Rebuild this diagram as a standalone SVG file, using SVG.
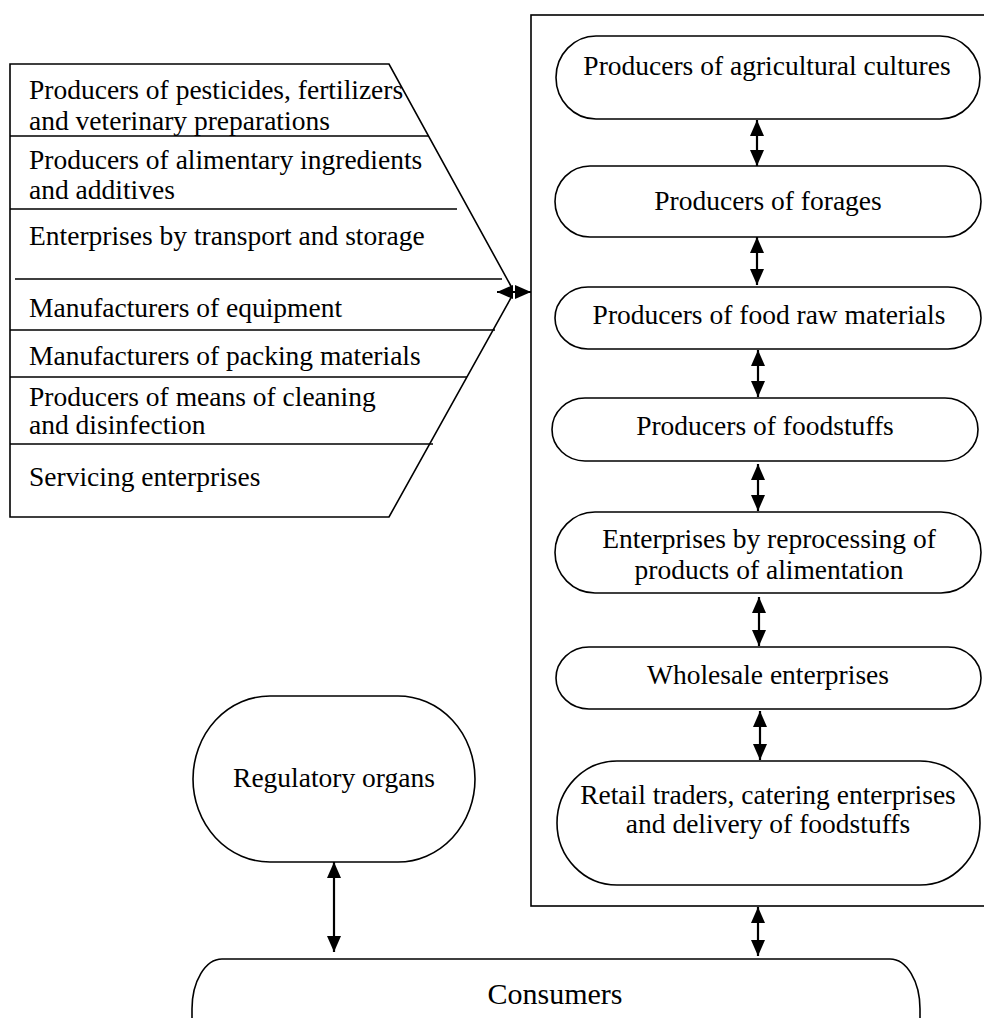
<svg xmlns="http://www.w3.org/2000/svg" width="984" height="1018" viewBox="0 0 984 1018">
<style>
.o{fill:#fff;stroke:#000;stroke-width:1.6}
.ln{fill:none;stroke:#000;stroke-width:1.6}
.c{fill:none;stroke:#000;stroke-width:2.2}
</style>
<defs>
<marker id="ah" viewBox="0 0 16 14" refX="16" refY="7" markerWidth="16" markerHeight="14" markerUnits="userSpaceOnUse" orient="auto-start-reverse">
<path d="M0,0 L16,7 L0,14 z" fill="#000"/>
</marker>
</defs>
<rect id="background" x="0" y="0" width="984" height="1018" fill="#fff"/>

<g font-family="'Liberation Serif', 'Times New Roman', serif" font-size="27.5" fill="#000">
<g id="suppliers">
<path class="ln" d="M512,296 L389,517 H10 V64 H389 L512,288"/>
<path class="ln" d="M10,136 H429 M10,209 H457 M15,279 H502 M10,330 H495 M10,377 H467 M10,444 H433"/>
<text x="29" y="99">Producers of pesticides, fertilizers</text>
<text x="29" y="130">and veterinary preparations</text>
<text x="29" y="169">Producers of alimentary ingredients</text>
<text x="29" y="199">and additives</text>
<text x="29" y="245">Enterprises by transport and storage</text>
<text x="29" y="317">Manufacturers of equipment</text>
<text x="29" y="365">Manufacturers of packing materials</text>
<text x="29" y="406">Producers of means of cleaning</text>
<text x="29" y="434">and disinfection</text>
<text x="29" y="486">Servicing enterprises</text>
</g>

<g id="chain-box">
<rect class="o" x="531" y="15" width="470" height="891"/>
</g>

<g text-anchor="middle">
<g id="n1">
<rect class="o" x="556" y="36" width="424" height="83" rx="40" ry="41.5"/>
<text x="767" y="75">Producers of agricultural cultures</text>
</g>
<g id="n2">
<rect class="o" x="555" y="166" width="426" height="71" rx="35" ry="35.5"/>
<text x="768" y="210">Producers of forages</text>
</g>
<g id="n3">
<rect class="o" x="555" y="287" width="426" height="62" rx="33" ry="31"/>
<text x="769" y="324">Producers of food raw materials</text>
</g>
<g id="n4">
<rect class="o" x="552" y="398" width="426" height="63" rx="33" ry="31.5"/>
<text x="765" y="435">Producers of foodstuffs</text>
</g>
<g id="n5">
<rect class="o" x="555" y="512" width="426" height="81" rx="40" ry="40.5"/>
<text x="769" y="548">Enterprises by reprocessing of</text>
<text x="769" y="579">products of alimentation</text>
</g>
<g id="n6">
<rect class="o" x="556" y="647" width="425" height="62" rx="33" ry="31"/>
<text x="768" y="684">Wholesale enterprises</text>
</g>
<g id="n7">
<rect class="o" x="557" y="761" width="423" height="124" rx="60" ry="62"/>
<text x="768" y="804">Retail traders, catering enterprises</text>
<text x="768" y="833">and delivery of foodstuffs</text>
</g>
<g id="regulatory">
<rect class="o" x="193" y="696" width="282" height="166" rx="77" ry="83"/>
<text x="334" y="787">Regulatory organs</text>
</g>
<g id="consumers">
<rect class="o" x="192" y="959" width="728" height="110" rx="30" ry="50"/>
<text x="555" y="1004" font-size="30">Consumers</text>
</g>
</g>
</g>

<g id="connectors">
<line class="c" marker-start="url(#ah)" marker-end="url(#ah)" x1="497" y1="292" x2="531" y2="292"/>
<line class="c" marker-start="url(#ah)" marker-end="url(#ah)" x1="757" y1="120" x2="757" y2="166"/>
<line class="c" marker-start="url(#ah)" marker-end="url(#ah)" x1="757" y1="237" x2="757" y2="285"/>
<line class="c" marker-start="url(#ah)" marker-end="url(#ah)" x1="758" y1="350" x2="758" y2="397"/>
<line class="c" marker-start="url(#ah)" marker-end="url(#ah)" x1="758" y1="464" x2="758" y2="511"/>
<line class="c" marker-start="url(#ah)" marker-end="url(#ah)" x1="759" y1="597" x2="759" y2="646"/>
<line class="c" marker-start="url(#ah)" marker-end="url(#ah)" x1="760" y1="711" x2="760" y2="760"/>
<line class="c" marker-start="url(#ah)" marker-end="url(#ah)" x1="758" y1="907" x2="758" y2="956"/>
<line class="c" marker-start="url(#ah)" marker-end="url(#ah)" x1="334" y1="862" x2="334" y2="952"/>
</g>
</svg>
